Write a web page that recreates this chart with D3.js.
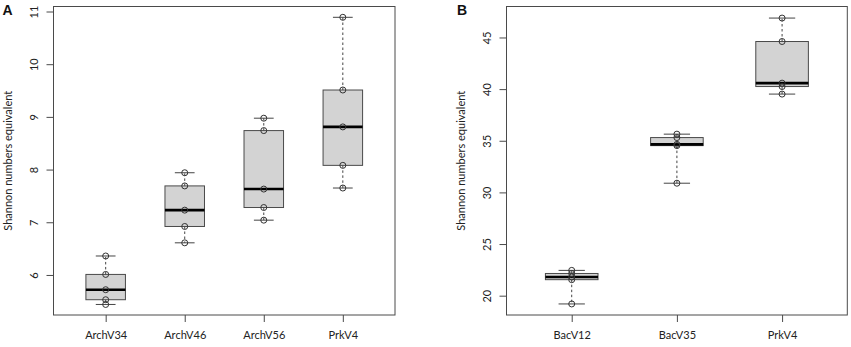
<!DOCTYPE html>
<html><head><meta charset="utf-8">
<script src="https://cdn.jsdelivr.net/npm/d3@7"></script>
<style>body{margin:0;background:#fff}svg{display:block}</style>
</head><body>
<script>
// Panel A data
const catsA = ["ArchV34", "ArchV46", "ArchV56", "PrkV4"];
const ArchV34 = [5.44, 5.53, 5.72, 6.01, 6.36];
const ArchV46 = [6.61, 6.92, 7.23, 7.69, 7.94];
const ArchV56 = [7.04, 7.28, 7.63, 8.74, 8.975];
const PrkV4A = [7.65, 8.08, 8.81, 9.51, 10.89];
const ticksA = [6, 7, 8, 9, 10, 11];
// Panel B data
const catsB = ["BacV12", "BacV35", "PrkV4"];
const BacV12 = [19.2, 21.55, 21.81, 22.15, 22.45];
const BacV35 = [30.89, 34.53, 34.65, 35.31, 35.64];
const PrkV4B = [39.52, 40.25, 40.58, 44.61, 46.88];
const ticksB = [20, 25, 30, 35, 40, 45];
const yTitle = "Shannon numbers equivalent";

const W = 851, H = 347;
const svg = d3.select("body").append("svg").attr("width", W).attr("height", H);
const font = "Lato, 'Liberation Sans', sans-serif";
const frameCol = "#4a4a4a";

function panel(opt) {
  const {cats, series, ticks, left, right, top, bottom, domain, pad, label, labelX, titleX} = opt;
  const x = d3.scalePoint().domain(cats).range([left, right]).padding(pad);
  const y = d3.scaleLinear().domain(domain).range([bottom, top]);
  const g = svg.append("g");
  const bw = x.step() * 0.5;
  // frame
  g.append("rect").attr("x", left).attr("y", top).attr("width", right - left).attr("height", bottom - top)
    .attr("fill", "none").attr("stroke", frameCol).attr("stroke-width", 1);
  // y axis
  const ya = g.append("g").attr("transform", `translate(${left},0)`)
    .call(d3.axisLeft(y).tickValues(ticks).tickSize(7).tickFormat(d3.format("d")));
  ya.select(".domain").remove();
  ya.selectAll("line").attr("stroke", frameCol);
  ya.selectAll("text").attr("transform", d => `rotate(-90, -20, ${0})`)
    .attr("x", -20).attr("dy", null).attr("y", 4).attr("text-anchor", "middle")
    .style("font-family", font).style("font-size", "11px").attr("fill", "#222");
  // x axis
  const xa = g.append("g").attr("transform", `translate(0,${bottom})`)
    .call(d3.axisBottom(x).tickSize(7).tickPadding(9));
  xa.select(".domain").remove();
  xa.selectAll("line").attr("stroke", frameCol);
  xa.selectAll("text").style("font-family", font).style("font-size", "11px").attr("fill", "#222");
  // y title
  g.append("text").attr("transform", `translate(${titleX},${(top + bottom) / 2 - 0}) rotate(-90)`)
    .attr("text-anchor", "middle").style("font-family", font).style("font-size", "11px")
    .attr("fill", "#222").text(yTitle);
  // panel label
  g.append("text").attr("x", labelX).attr("y", 15).style("font-family", "'Liberation Sans', Arial, sans-serif")
    .style("font-weight", "bold").style("font-size", "14px").attr("fill", "#111").text(label);
  // boxes
  cats.forEach((c, i) => {
    const vals = series[i].slice().sort(d3.ascending);
    const q1 = d3.quantile(vals, 0.25), med = d3.quantile(vals, 0.5), q3 = d3.quantile(vals, 0.75);
    const lo = d3.min(vals), hi = d3.max(vals);
    const cx = x(c);
    const bg = g.append("g");
    // whiskers
    bg.append("line").attr("x1", cx).attr("x2", cx).attr("y1", y(q3)).attr("y2", y(hi))
      .attr("stroke", "#444").attr("stroke-dasharray", "2.5,2.5");
    bg.append("line").attr("x1", cx).attr("x2", cx).attr("y1", y(q1)).attr("y2", y(lo))
      .attr("stroke", "#444").attr("stroke-dasharray", "2.5,2.5");
    [hi, lo].forEach(v => bg.append("line").attr("x1", cx - bw / 4).attr("x2", cx + bw / 4)
      .attr("y1", y(v)).attr("y2", y(v)).attr("stroke", "#444"));
    bg.append("rect").attr("x", cx - bw / 2).attr("y", y(q3)).attr("width", bw).attr("height", y(q1) - y(q3))
      .attr("fill", "#d3d3d3").attr("stroke", "#4a4a4a").attr("stroke-width", 1);
    bg.append("line").attr("x1", cx - bw / 2).attr("x2", cx + bw / 2).attr("y1", y(med)).attr("y2", y(med))
      .attr("stroke", "#000").attr("stroke-width", 2.6);
    vals.forEach(v => bg.append("circle").attr("cx", cx).attr("cy", y(v)).attr("r", 3)
      .attr("fill", "none").attr("stroke", "#333").attr("stroke-width", 1));
  });
}

panel({cats: catsA, series: [ArchV34, ArchV46, ArchV56, PrkV4A], ticks: ticksA,
  left: 53.5, right: 395, top: 6.5, bottom: 315, domain: [5.24, 11.095], pad: 0.66,
  label: "A", labelX: 2.5, titleX: 11.5});
panel({cats: catsB, series: [BacV12, BacV35, PrkV4B], ticks: ticksB,
  left: 506.5, right: 847.3, top: 6.5, bottom: 315, domain: [18.13, 48.0], pad: 0.62,
  label: "B", labelX: 457, titleX: 464.5});
</script>
</body></html>
